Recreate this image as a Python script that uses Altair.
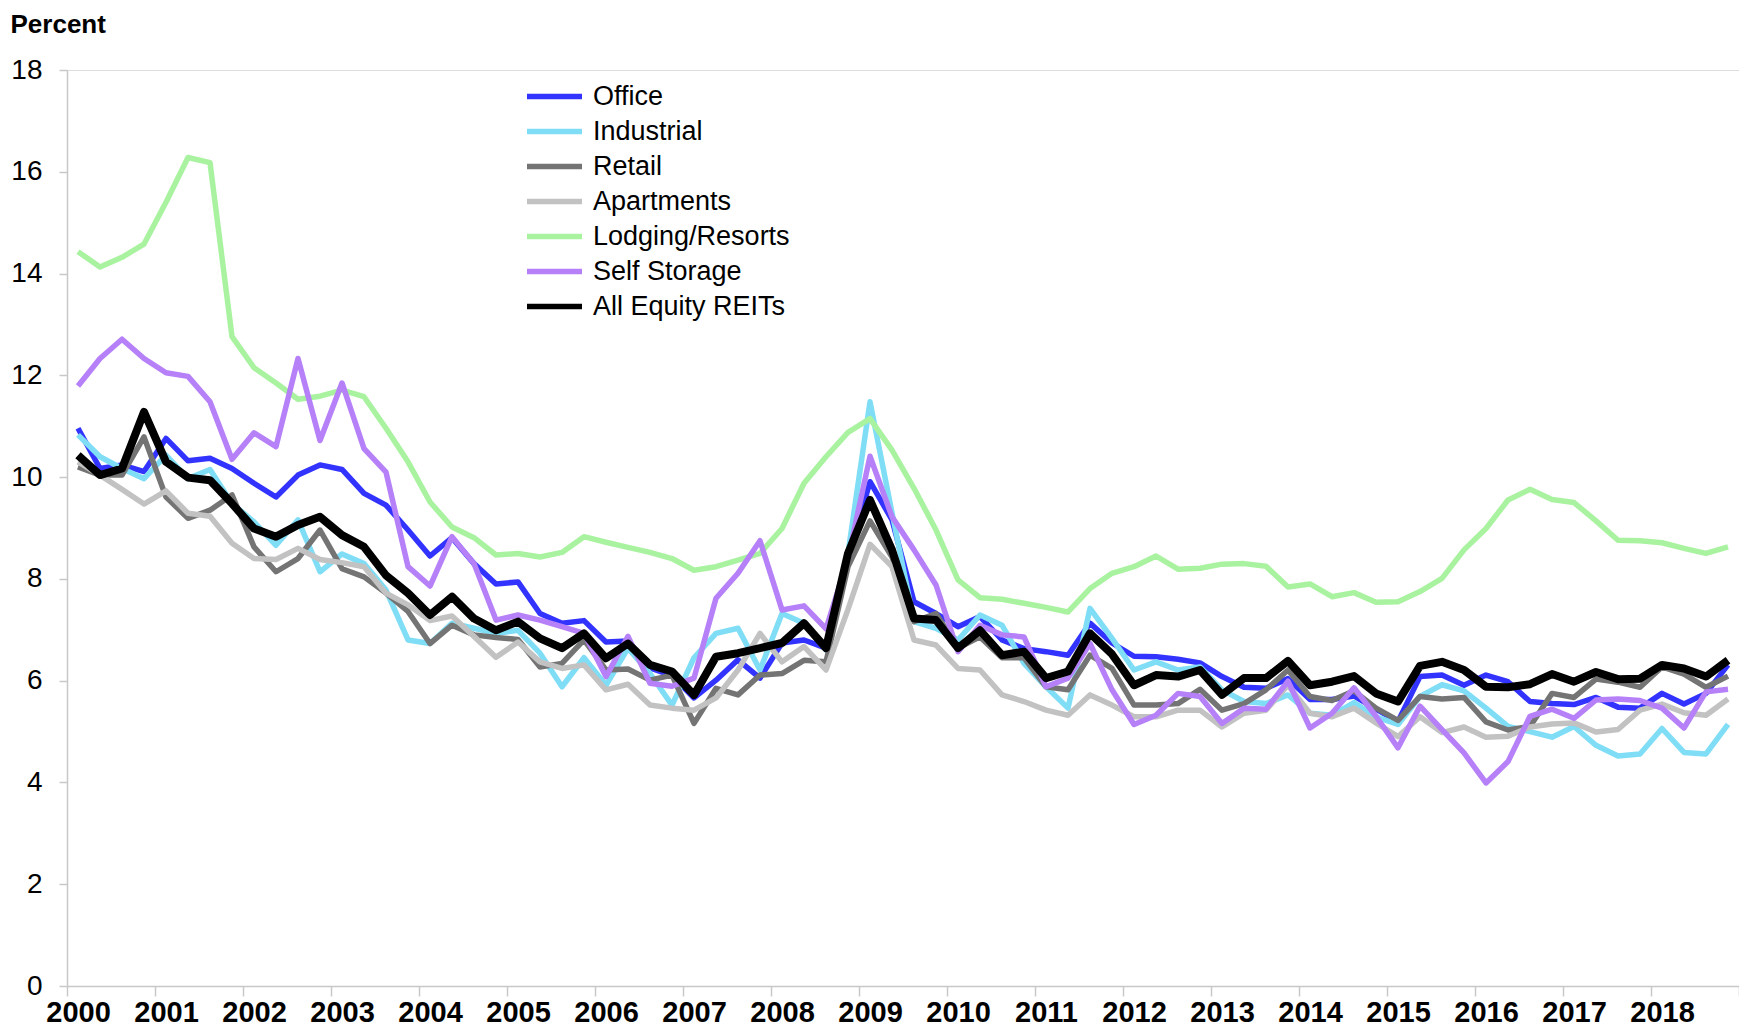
import altair as alt
import pandas as pd

series_names = ["Office", "Industrial", "Retail", "Apartments",
                "Lodging/Resorts", "Self Storage", "All Equity REITs"]
colors = ["#3333FF", "#7FDDF5", "#747474", "#C2C2C2", "#A9F3A0", "#B680F8", "#000000"]
widths = [5.5, 5.5, 5.5, 5.5, 5.5, 5.5, 8]

first_year = 2000
n_quarters = 76

office = [10.96, 10.17, 10.24, 10.11, 10.76, 10.32, 10.37, 10.17,
          9.88, 9.61, 10.04, 10.24, 10.15, 9.68, 9.45, 8.96,
          8.45, 8.81, 8.30, 7.90, 7.94, 7.32, 7.13, 7.18,
          6.76, 6.78, 6.25, 6.10, 5.66, 6.01, 6.41, 6.05,
          6.74, 6.80, 6.64, 8.40, 9.91, 9.16, 7.55, 7.32,
          7.06, 7.26, 6.80, 6.63, 6.57, 6.50, 7.13, 6.74,
          6.48, 6.47, 6.42, 6.35, 6.08, 5.87, 5.85, 6.04,
          5.63, 5.63, 5.70, 5.44, 5.20, 6.08, 6.11, 5.91,
          6.11, 5.98, 5.59, 5.55, 5.53, 5.67, 5.48, 5.46,
          5.75, 5.54, 5.75, 6.31]
industrial = [10.83, 10.40, 10.17, 9.97, 10.43, 9.97, 10.15, 9.48,
              9.12, 8.66, 9.16, 8.14, 8.49, 8.30, 7.78, 6.80,
              6.73, 7.13, 7.03, 6.93, 6.99, 6.54, 5.88, 6.45,
              5.91, 6.64, 6.14, 5.52, 6.45, 6.93, 7.03, 6.21,
              7.32, 7.13, 6.60, 8.50, 11.48, 9.30, 7.16, 7.03,
              6.80, 7.29, 7.09, 6.34, 5.88, 5.46, 7.42, 6.83,
              6.21, 6.37, 6.21, 6.27, 5.82, 5.59, 5.55, 5.72,
              5.36, 5.32, 5.57, 5.29, 5.14, 5.69, 5.92, 5.80,
              5.46, 5.10, 5.00, 4.89, 5.10, 4.73, 4.52, 4.56,
              5.06, 4.59, 4.56, 5.14]
retail = [10.20, 10.04, 10.04, 10.79, 9.61, 9.19, 9.35, 9.65,
          8.63, 8.14, 8.40, 8.96, 8.20, 8.04, 7.72, 7.36,
          6.73, 7.09, 6.90, 6.85, 6.81, 6.27, 6.34, 6.80,
          6.21, 6.23, 6.01, 6.11, 5.16, 5.85, 5.72, 6.11,
          6.14, 6.40, 6.37, 8.24, 9.14, 8.43, 7.16, 7.32,
          6.64, 6.86, 6.45, 6.45, 5.88, 5.82, 6.50, 6.24,
          5.52, 5.52, 5.55, 5.83, 5.42, 5.55, 5.82, 6.21,
          5.69, 5.61, 5.80, 5.46, 5.22, 5.69, 5.64, 5.67,
          5.19, 5.03, 5.10, 5.75, 5.67, 6.03, 5.97, 5.87,
          6.27, 6.13, 5.87, 6.09]
apartments = [10.30, 10.04, 9.76, 9.47, 9.73, 9.29, 9.23, 8.70,
              8.40, 8.38, 8.60, 8.38, 8.32, 8.24, 7.72, 7.49,
              7.18, 7.27, 6.87, 6.46, 6.76, 6.37, 6.24, 6.31,
              5.82, 5.93, 5.52, 5.46, 5.42, 5.66, 6.21, 6.93,
              6.37, 6.67, 6.21, 7.40, 8.68, 8.24, 6.80, 6.70,
              6.24, 6.21, 5.72, 5.59, 5.42, 5.32, 5.72, 5.52,
              5.29, 5.29, 5.42, 5.42, 5.09, 5.36, 5.42, 5.91,
              5.36, 5.29, 5.46, 5.17, 4.90, 5.29, 4.98, 5.09,
              4.89, 4.91, 5.09, 5.15, 5.17, 4.99, 5.04, 5.42,
              5.54, 5.37, 5.32, 5.64]
lodging = [14.43, 14.13, 14.32, 14.58, 15.40, 16.28, 16.18, 12.76,
           12.15, 11.85, 11.53, 11.59, 11.71, 11.58, 10.96, 10.30,
           9.51, 9.02, 8.81, 8.47, 8.50, 8.43, 8.52, 8.83,
           8.72, 8.62, 8.52, 8.40, 8.17, 8.24, 8.37, 8.50,
           8.99, 9.88, 10.40, 10.88, 11.15, 10.53, 9.78, 8.96,
           7.98, 7.63, 7.60, 7.52, 7.44, 7.35, 7.81, 8.11,
           8.24, 8.45, 8.19, 8.21, 8.29, 8.30, 8.25, 7.84,
           7.90, 7.65, 7.73, 7.54, 7.55, 7.75, 8.01, 8.57,
           8.99, 9.55, 9.76, 9.56, 9.50, 9.14, 8.76, 8.75,
           8.71, 8.60, 8.50, 8.63]
self_storage = [11.79, 12.33, 12.71, 12.33, 12.05, 11.98, 11.48, 10.35,
                10.87, 10.60, 12.33, 10.72, 11.85, 10.56, 10.10, 8.24,
                7.86, 8.83, 8.30, 7.19, 7.29, 7.19, 7.06, 6.93,
                6.08, 6.87, 5.95, 5.89, 6.05, 7.62, 8.11, 8.75,
                7.39, 7.47, 7.02, 8.40, 10.41, 9.22, 8.57, 7.88,
                6.57, 7.09, 6.90, 6.86, 5.88, 6.05, 6.73, 5.82,
                5.14, 5.32, 5.75, 5.69, 5.16, 5.46, 5.44, 5.99,
                5.07, 5.36, 5.86, 5.30, 4.68, 5.50, 5.04, 4.58,
                3.99, 4.41, 5.30, 5.44, 5.26, 5.62, 5.64, 5.61,
                5.46, 5.07, 5.78, 5.83]
all_equity = [10.43, 10.04, 10.17, 11.28, 10.30, 9.99, 9.94, 9.48,
              8.99, 8.83, 9.06, 9.22, 8.86, 8.63, 8.07, 7.72,
              7.29, 7.65, 7.22, 6.99, 7.16, 6.83, 6.64, 6.93,
              6.44, 6.73, 6.31, 6.18, 5.72, 6.47, 6.54, 6.64,
              6.74, 7.13, 6.64, 8.50, 9.55, 8.57, 7.22, 7.19,
              6.64, 6.99, 6.50, 6.57, 6.05, 6.18, 6.93, 6.52,
              5.91, 6.11, 6.08, 6.21, 5.72, 6.05, 6.05, 6.39,
              5.91, 5.98, 6.09, 5.75, 5.59, 6.29, 6.37, 6.21,
              5.88, 5.87, 5.93, 6.13, 5.98, 6.17, 6.03, 6.04,
              6.31, 6.24, 6.08, 6.40]

all_series = [office, industrial, retail, apartments, lodging, self_storage, all_equity]

rows = []
for k, (name, vals) in enumerate(zip(series_names, all_series)):
    for i, v in enumerate(vals):
        rows.append({"series": name, "q": i + 0.5, "value": v, "sw": widths[k]})
df = pd.DataFrame(rows)

FONT = "Liberation Sans"
AXIS_GREY = "#C8C8C8"

x_axis = alt.Axis(
    values=list(range(0, n_quarters + 1, 4)),
    labelExpr=f"datum.value >= {n_quarters} ? '' : toString({first_year} + datum.value / 4)",
    labelOffset=11,
    labelOverlap=False,
    labelBound=False,
    labelFlush=False,
    labelFont=FONT,
    labelFontSize=29,
    labelFontWeight="bold",
    labelColor="#000000",
    labelPadding=2,
    tickSize=10,
    tickColor=AXIS_GREY,
    tickWidth=1.5,
    domainColor=AXIS_GREY,
    domainWidth=1.5,
    grid=False,
    title=None,
)

y_axis = alt.Axis(
    values=list(range(0, 19, 2)),
    labelFont=FONT,
    labelFontSize=28,
    labelColor="#000000",
    labelPadding=17,
    tickSize=8,
    tickColor=AXIS_GREY,
    tickWidth=1.5,
    domainColor=AXIS_GREY,
    domainWidth=1.5,
    grid=False,
    title="Percent",
    titleAngle=0,
    titleX=-57,
    titleY=-38,
    titleAlign="left",
    titleBaseline="alphabetic",
    titleFont=FONT,
    titleFontSize=26,
    titleFontWeight="bold",
    titleColor="#000000",
)

legend = alt.Legend(
    title=None,
    orient="none",
    legendX=474,
    legendY=13,
    symbolType="M-2.75,0H2.75",
    symbolSize=400,
    symbolStrokeWidth=5.5,
    symbolFillColor="transparent",
    labelFont=FONT,
    labelFontSize=27,
    labelColor="#000000",
    labelLimit=500,
    labelOffset=25,
    rowPadding=7,
    padding=0,
)

chart = alt.Chart(df).mark_line(strokeJoin="round", strokeCap="butt").encode(
    x=alt.X("q:Q", scale=alt.Scale(domain=[0, n_quarters], nice=False, zero=False), axis=x_axis),
    y=alt.Y("value:Q", scale=alt.Scale(domain=[0, 18], nice=False), axis=y_axis),
    color=alt.Color("series:N", scale=alt.Scale(domain=series_names, range=colors),
                    sort=series_names, legend=legend),
    strokeWidth=alt.StrokeWidth("sw:Q", scale=None),
    order=alt.Order("q:Q"),
).properties(
    width=1672,
    height=916,
    autosize=alt.AutoSizeParams(type="none"),
    padding={"left": 59, "top": 62, "right": 0, "bottom": 42},
).configure_view(stroke=None).configure(background="#FFFFFF")

chart.save("out.html", embed_options={"renderer": "svg", "actions": False})
